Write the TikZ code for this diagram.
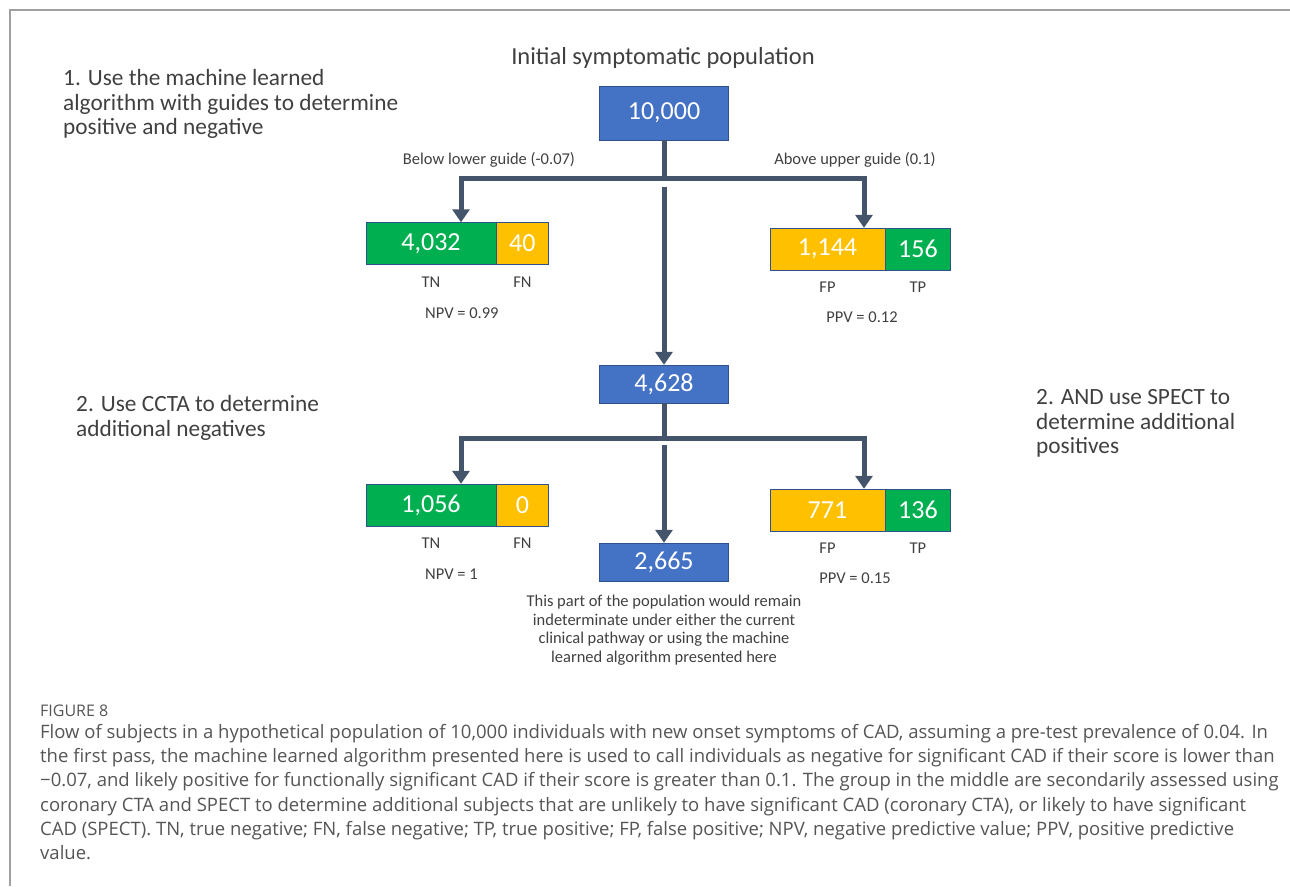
\documentclass[tikz,border=0pt]{standalone}
\usepackage{fontspec}
\setmainfont{Carlito}
\newfontfamily\capfont{Open Sans}
\usetikzlibrary{positioning,arrows.meta}

\definecolor{popblue}{HTML}{4472C4}
\definecolor{popedge}{HTML}{2F528F}
\definecolor{okgreen}{HTML}{00B050}
\definecolor{warnyellow}{HTML}{FFC000}
\definecolor{flowline}{HTML}{44546A}
\definecolor{labelgray}{HTML}{404040}
\definecolor{capgray}{HTML}{555555}
\definecolor{framegray}{HTML}{A0A0A0}

\begin{document}
\begin{tikzpicture}[x=1pt, y=-1pt,
    popbox/.style={rectangle, draw=popedge, fill=popblue, text=white, minimum width=129, minimum height=38, inner sep=0, font=\fontsize{26}{30}\selectfont},
    negbox/.style={rectangle, draw=popedge, fill=okgreen, text=white, minimum height=42, inner sep=0, font=\fontsize{26}{30}\selectfont},
    posbox/.style={rectangle, draw=popedge, fill=warnyellow, text=white, minimum height=42, inner sep=0, font=\fontsize{26}{30}\selectfont},
    lbl/.style={text=labelgray, inner sep=0, font=\fontsize{16.5}{20}\selectfont},
    sidetext/.style={text=labelgray, inner sep=0, align=left, font=\fontsize{23.3}{24.8}\selectfont},
    flow/.style={draw=flowline, line width=5pt},
    flowarrow/.style={flow, -{Triangle[width=17pt, length=13pt]}},
    ]
      \useasboundingbox (0,0) rectangle (1290,886);
      \draw[framegray, line width=1.5pt] (1290,10) -- (10,10) -- (10,886);

      %Nodes
      \node[popbox, minimum height=54] (init) at (664,113) {10,000};
      \node[lbl, font=\fontsize{24.5}{28}\selectfont] (title) at (663,58) {Initial symptomatic population};

      \node[negbox, minimum width=130] (tnA) at (431,243.5) {4,032};
      \node[posbox, minimum width=52, right=0pt of tnA] (fnA) {40};
      \node[posbox, minimum width=115] (fpA) at (827.5,249) {1,144};
      \node[negbox, minimum width=65, right=0pt of fpA] (tpA) {156};

      \node[lbl, below=12pt of tnA] (tnAl) {TN};
      \node[lbl, below=12pt of fnA] (fnAl) {FN};
      \node[lbl, below=12pt of fpA] (fpAl) {FP};
      \node[lbl, below=12pt of tpA] (tpAl) {TP};
      \node[lbl, anchor=west] (npvA) at (425,313) {NPV = 0.99};
      \node[lbl] (ppvA) at (862,317) {PPV = 0.12};

      \node[popbox] (midA) at (664,384) {4,628};

      \node[negbox, minimum width=130] (tnB) at (431,505) {1,056};
      \node[posbox, minimum width=52, right=0pt of tnB] (fnB) {0};
      \node[posbox, minimum width=115] (fpB) at (827.5,510) {771};
      \node[negbox, minimum width=65, right=0pt of fpB] (tpB) {136};

      \node[lbl, below=12pt of tnB] (tnBl) {TN};
      \node[lbl, below=12pt of fnB] (fnBl) {FN};
      \node[lbl, below=12pt of fpB] (fpBl) {FP};
      \node[lbl, below=12pt of tpB] (tpBl) {TP};
      \node[lbl, anchor=west] (npvB) at (425,574) {NPV = 1};
      \node[lbl] (ppvB) at (855,578) {PPV = 0.15};

      \node[popbox] (rest) at (664,562) {2,665};
      \node[lbl, align=center, font=\fontsize{16.5}{18.5}\selectfont, below=14pt of rest] (restnote) {This part of the population would remain\\indeterminate under either the current\\clinical pathway or using the machine\\learned algorithm presented here};

      \node[lbl] (guidelo) at (489,160) {Below lower guide (-0.07)};
      \node[lbl] (guidehi) at (855,160) {Above upper guide (0.1)};

      \node[sidetext, anchor=north west] (stepA) at (63,69) {1. Use the machine learned\\algorithm with guides to determine\\positive and negative};
      \node[sidetext, anchor=north west] (stepB) at (76,395) {2. Use CCTA to determine\\additional negatives};
      \node[sidetext, anchor=north west] (stepC) at (1036,389) {2. AND use SPECT to\\determine additional\\positives};

      %Lines
      \coordinate (barA) at (664,178);
      \coordinate (gapA) at (664,187);
      \coordinate (barB) at (664,438);
      \coordinate (gapB) at (664,445);

      \draw[flow] (init.south) -- (barA);
      \draw[flowarrow] (barA) -| (461,0 |- tnA.north);
      \draw[flowarrow] (barA) -| (864,0 |- fpA.north);
      \draw[flowarrow] (gapA) -- (midA.north);

      \draw[flow] (midA.south) -- (barB);
      \draw[flowarrow] (barB) -| (461,0 |- tnB.north);
      \draw[flowarrow] (barB) -| (864,0 |- fpB.north);
      \draw[flowarrow] (gapB) -- (rest.north);

      %Caption
      \node[anchor=west, inner sep=0, text=capgray, font=\capfont\fontsize{16}{18}\selectfont] (figlabel) at (40,711) {FIGURE 8};
      \node[anchor=north west, inner sep=0, text=capgray, align=left, font=\capfont\fontsize{18.5}{24.3}\selectfont] (caption) at (40,724) {Flow of subjects in a hypothetical population of 10,000 individuals with new onset symptoms of CAD, assuming a pre-test prevalence of 0.04. In\\the first pass, the machine learned algorithm presented here is used to call individuals as negative for significant CAD if their score is lower than\\−0.07, and likely positive for functionally significant CAD if their score is greater than 0.1. The group in the middle are secondarily assessed using\\coronary CTA and SPECT to determine additional subjects that are unlikely to have significant CAD (coronary CTA), or likely to have significant\\CAD (SPECT). TN, true negative; FN, false negative; TP, true positive; FP, false positive; NPV, negative predictive value; PPV, positive predictive\\value.};
\end{tikzpicture}
\end{document}
